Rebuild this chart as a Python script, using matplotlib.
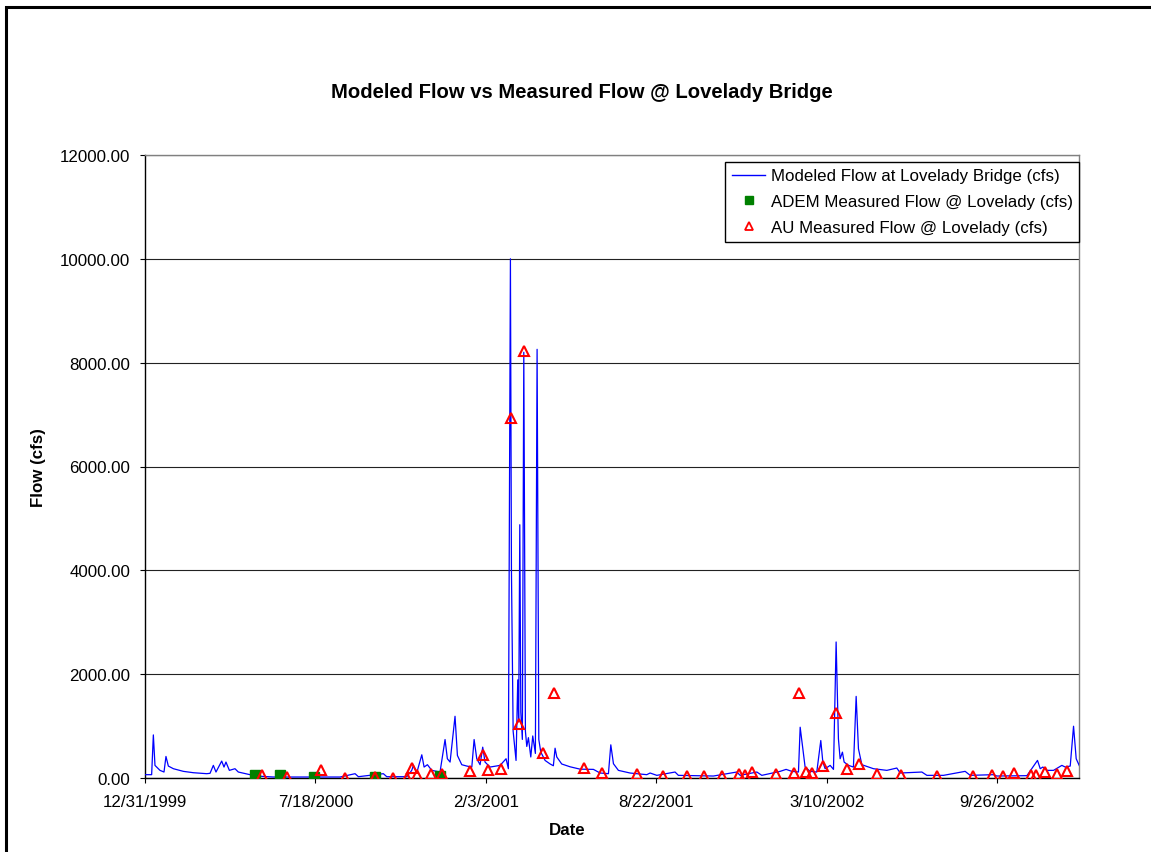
import datetime as dt
import matplotlib
matplotlib.use("Agg")
import matplotlib.pyplot as plt
import matplotlib.dates as mdates
from matplotlib.patches import Rectangle
from matplotlib.lines import Line2D
from matplotlib.ticker import FuncFormatter, FixedLocator

plt.rcParams['font.family'] = ['Liberation Sans', 'DejaVu Sans']

BASE = dt.datetime(1999, 12, 31)

# Modeled flow (day offset from 12/31/1999, cfs)
model_day = [0, 7.8, 9.8, 11.7, 17.6, 22.3, 24.6, 27.4, 33.3, 45, 56.7, 72.4, 76.3, 80.2,
             83.3, 90, 92.7, 95, 99, 105.6, 109.5, 123.2, 131, 150.6, 228.9, 246.5, 250.4,
             279.7, 283.7, 307.2, 313, 315, 318.9, 324.8, 327.5, 331.4, 336.5, 346.2, 352.1,
             354.8, 358, 363.8, 366.6, 371.7, 377.6, 383.5, 386.2, 389.3, 393.2, 396.3, 399,
             404.9, 416.7, 423.7, 426.4, 428.8, 430, 432, 435.4, 437.4, 438.5, 439.8, 441,
             442.8, 444.5, 446.4, 448, 449.9, 452.7, 455, 458.1, 460.1, 462.1, 464.4, 469.5,
             475.4, 479.2, 481.2, 483.2, 489, 498.8, 510.6, 526.2, 534, 543.8, 546.6, 549.7,
             555.5, 569.2, 588.8, 592.7, 600.6, 622, 625.9, 667, 694.4, 698.4, 718, 723.8,
             745.3, 752.3, 759, 766.8, 768.8, 771.9, 774.6, 780.5, 788.3, 793, 795.4, 798.1,
             804, 807.9, 811, 813.7, 815.7, 818.4, 820.4, 825.5, 831.3, 834.5, 837.2, 841.2,
             854.8, 870.5, 882.2, 886.2, 911.6, 917.5, 937, 962.4, 968.3, 995.7, 999.6,
             1034.9, 1047.3, 1050.5, 1053.6, 1058.3, 1066.1, 1075.9, 1079.8, 1085.7, 1089.6,
             1092.7, 1096.6]
model_flow = [64, 64, 830, 243, 147, 115, 415, 230, 179, 128, 102, 83, 90, 243,
              115, 326, 211, 307, 147, 179, 115, 64, 38, 19, 19, 83, 25,
              83, 25, 25, 147, 243, 100, 447, 211, 256, 147, 115, 741,
              371, 307, 1189, 434, 256, 230, 211, 741, 371, 256, 594, 307,
              211, 243, 371, 179, 10000, 4000, 900, 338, 1890, 1080, 4878, 1270,
              743, 8200, 900, 608, 777, 405, 810, 473, 8257, 743, 500, 338,
              270, 236, 574, 405, 270, 216, 170, 166, 96, 83, 639, 275,
              147, 96, 64, 96, 51, 115, 51, 38, 115, 51, 115, 51,
              128, 166, 128, 115, 978, 562, 211, 128, 115, 722, 307, 179,
              243, 166, 2620, 754, 371, 498, 307, 243, 211, 1572, 562, 256,
              179, 147, 192, 96, 115, 51, 51, 128, 51, 64, 38,
              45, 339, 179, 211, 147, 147, 243, 211, 230, 997,
              371, 230]

# ADEM measured flow
adem_day = [129.1, 158.5, 198.7, 270.3, 346.2]
adem_flow = [64, 51, 19, 19, 32]

# AU measured flow
au_day = [137.7, 166.3, 206.6, 234.7, 270.3, 290.7, 307.2, 313.7, 318.9, 335.3, 348.2,
          381.5, 396.3, 403, 417.8, 429.3, 439, 445.2, 466.8, 480.4, 515.5, 536.7,
          577.8, 608.3, 635.8, 656.1, 676.9, 697.2, 704.2, 712.1, 740.6, 761.7, 767.6,
          775.8, 782.5, 796.1, 811, 824.3, 838, 858.8, 887, 929.9, 972.2, 993.8,
          1007.4, 1019.9, 1039.6, 1045.8, 1056.3, 1070.1, 1082.5]
au_flow = [51, 10, 147, 5, 19, 5, 5, 192, 64, 83, 83,
           128, 434, 147, 169, 6926, 1047, 8223, 486, 1635, 190, 96,
           83, 32, 32, 32, 32, 83, 51, 115, 83, 96, 1636,
           115, 96, 230, 1252, 166, 268, 83, 51, 32, 32, 51,
           32, 96, 51, 51, 115, 83, 128]

xtick_days = [0, 200, 400, 600, 800, 1000]
ytick_vals = [0, 2000, 4000, 6000, 8000, 10000, 12000]
x_max_day = 1096

title = "Modeled Flow vs Measured Flow @ Lovelady Bridge"
xlabel = "Date"
ylabel = "Flow (cfs)"
labels = ["Modeled Flow at Lovelady Bridge (cfs)",
          "ADEM Measured Flow @ Lovelady (cfs)",
          "AU Measured Flow @ Lovelady (cfs)"]


def to_dates(days):
    return [BASE + dt.timedelta(days=float(d)) for d in days]


W, H = 1151, 853
fig = plt.figure(figsize=(W / 100, H / 100), dpi=100)
fig.patch.set_facecolor('white')

# outer chart border (clipped at right/bottom as in reference)
fig.patches.append(Rectangle((5.5 / W, -0.2), 1.5, 1.2 - 7.5 / H,
                             transform=fig.transFigure, fill=False,
                             edgecolor='black', linewidth=2.2))

ax = fig.add_axes([145 / W, 1 - 779 / H, 934 / W, 623 / H])

ax.plot(to_dates(model_day), model_flow, color='#0000FF', lw=0.9, zorder=3)
ax.plot(to_dates(adem_day), adem_flow, ls='none', marker='s', markersize=7,
        color='#008000', zorder=4)
ax.plot(to_dates(au_day), au_flow, ls='none', marker='^', markersize=7.5,
        markerfacecolor='none', markeredgecolor='#FF0000', markeredgewidth=1.5,
        zorder=5)

ax.set_xlim(BASE, BASE + dt.timedelta(days=x_max_day))
ax.set_ylim(0, 12000)
ax.xaxis.set_major_locator(FixedLocator([mdates.date2num(d) for d in to_dates(xtick_days)]))


def fmt_date(x, pos):
    d = mdates.num2date(x)
    return f"{d.month}/{d.day}/{d.year}"


ax.xaxis.set_major_formatter(FuncFormatter(fmt_date))
ax.set_yticks(ytick_vals)
ax.yaxis.set_major_formatter(FuncFormatter(lambda v, p: f"{v:.2f}"))

ax.yaxis.grid(True, color='#222222', lw=0.8)
ax.set_axisbelow(True)
ax.tick_params(axis='both', direction='out', length=3.8, width=0.8,
               labelsize=12.2, colors='black')
ax.tick_params(axis='y', pad=7)
ax.tick_params(axis='x', pad=8)
for s in ['left', 'bottom']:
    ax.spines[s].set_color('black')
    ax.spines[s].set_linewidth(1.0)
for s in ['top', 'right']:
    ax.spines[s].set_color('#808080')
    ax.spines[s].set_linewidth(1.0)

fig.text(582 / W, 1 - 92 / H, title, ha='center', va='center',
         fontsize=14.6, fontweight='bold')
fig.text(567 / W, 1 - 831 / H, xlabel, ha='center', va='center',
         fontsize=12.2, fontweight='bold')
fig.text(39 / W, 1 - 468 / H, ylabel, ha='center', va='center', rotation=90,
         fontsize=12.2, fontweight='bold')

handles = [Line2D([], [], color='#0000FF', lw=1.0),
           Line2D([], [], ls='none', marker='s', markersize=5.5, color='#008000'),
           Line2D([], [], ls='none', marker='^', markersize=5.5, markerfacecolor='none',
                  markeredgecolor='#FF0000', markeredgewidth=1.3)]
leg = ax.legend(handles, labels, loc='upper right',
                bbox_to_anchor=(1.0, 1 - 7 / 623),
                bbox_transform=ax.transAxes, borderaxespad=0, fancybox=False,
                framealpha=1, edgecolor='black', fontsize=12.2,
                handlelength=2.0, handletextpad=0.3, borderpad=0.38,
                labelspacing=0.64)
leg.get_frame().set_linewidth(1.0)

fig.savefig('out.png', dpi=100)
